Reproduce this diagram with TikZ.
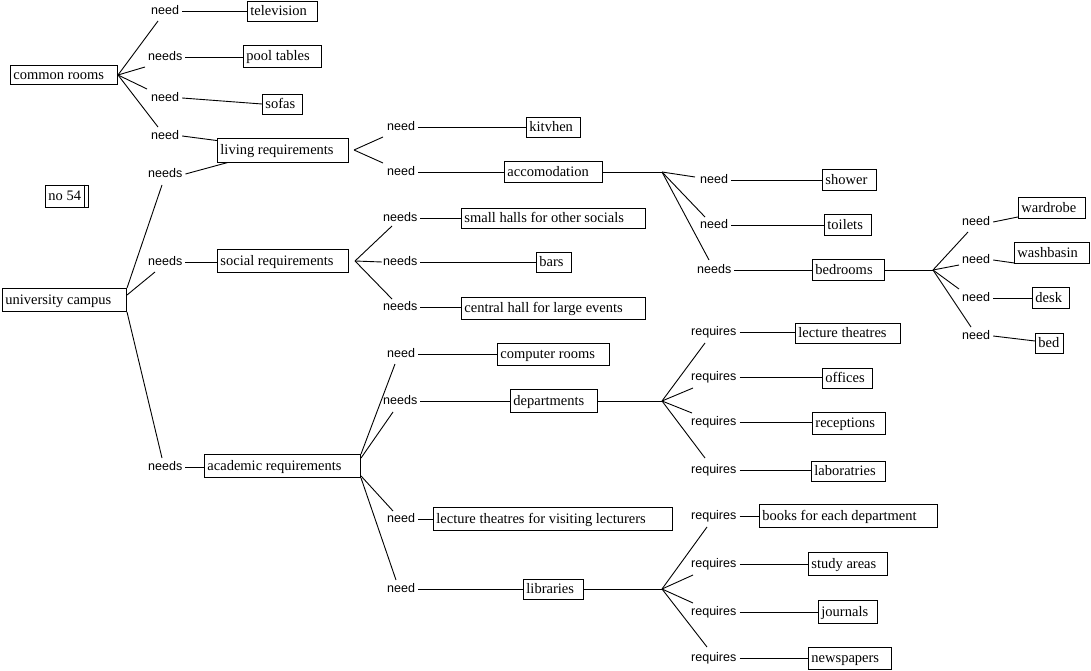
\documentclass[tikz,border=0pt]{standalone}
\usepackage{fontspec}
\setmainfont{Liberation Serif}
\newfontfamily\lblfnt{Liberation Sans}
\newcommand\mybox[6]{\node[box, minimum height=#5pt] (#1) at (#2,#4) {\makebox[\dimexpr #3pt-#2pt-6.9pt\relax][l]{#6}};}
\newcommand\mylbl[4]{\node[lbl] (#1) at (#2-3,#3) {#4};}
\begin{document}
\begin{tikzpicture}[x=1pt,y=-1pt,
  box/.style={draw, line width=0.9pt, anchor=west, inner xsep=3pt, inner ysep=0pt,
    text height=12pt, text depth=3pt, font=\fontsize{14.5}{16}\selectfont},
  lbl/.style={anchor=west, inner xsep=3pt, inner ysep=0pt, text height=9.5pt, text depth=2.5pt,
    font=\lblfnt\fontsize{12.5}{14}\selectfont},
  con/.style={line width=0.9pt}]
\useasboundingbox (0,0) rectangle (1091,671);
% boxes
\mybox{cr}{10}{118}{75}{19}{common rooms}
\mybox{tv}{247}{318}{11}{20}{television}
\mybox{pool}{243}{322}{56}{22}{pool tables}
\mybox{sofa}{262}{303}{104}{20}{sofas}
\mybox{liv}{217}{349}{150}{24}{living requirements}
\mybox{no54}{45}{89}{196}{22}{no 54}
\mybox{uc}{2}{127}{300}{23}{university campus}
\mybox{soc}{217}{349}{261}{23}{social requirements}
\mybox{kit}{526}{581}{127}{20}{kitvhen}
\mybox{acc}{504}{603}{172}{21}{accomodation}
\mybox{small}{461}{646}{218}{20}{small halls for other socials}
\mybox{bars}{536}{572}{262}{20}{bars}
\mybox{central}{461}{646}{308}{22}{central hall for large events}
\mybox{shower}{822}{877}{180}{21}{shower}
\mybox{toil}{824}{872}{225}{21}{toilets}
\mybox{bedr}{812}{885}{270}{21}{bedrooms}
\mybox{ward}{1018}{1086}{208}{21}{wardrobe}
\mybox{wash}{1014}{1090}{253}{21}{washbasin}
\mybox{desk}{1032}{1070}{298}{21}{desk}
\mybox{bedd}{1035}{1064}{343}{20}{bed}
\mybox{lt}{795}{901}{333}{20}{lecture theatres}
\mybox{off}{822}{873}{378}{20}{offices}
\mybox{rec}{812}{886}{423}{22}{receptions}
\mybox{lab}{811}{886}{471}{20}{laboratries}
\mybox{comp}{497}{610}{354}{22}{computer rooms}
\mybox{dept}{510}{598}{401}{23}{departments}
\mybox{acad}{204}{361}{466}{23}{academic requirements}
\mybox{ltv}{433}{673}{519}{23}{lecture theatres for visiting lecturers}
\mybox{lib}{523}{584}{589}{20}{libraries}
\mybox{books}{759}{938}{516}{23}{books for each department}
\mybox{study}{808}{888}{564}{23}{study areas}
\mybox{journ}{818}{878}{612}{23}{journals}
\mybox{news}{808}{892}{658}{22}{newspapers}
\draw[con] ([shift={(-5,0)}]no54.north east) -- ([shift={(-5,0)}]no54.south east);
% labels
\mylbl{ltv1}{151}{11}{need}
\mylbl{lpool}{148}{57}{needs}
\mylbl{lsofa}{151}{98}{need}
\mylbl{lliv}{151}{136}{need}
\mylbl{luliv}{148}{174}{needs}
\mylbl{lsoc}{148}{262}{needs}
\mylbl{lacad}{148}{467}{needs}
\mylbl{lkit}{387}{127}{need}
\mylbl{lacc}{387}{172}{need}
\mylbl{lsmall}{383}{218}{needs}
\mylbl{lbars}{383}{262}{needs}
\mylbl{lcentral}{383}{307}{needs}
\mylbl{lshower}{700}{180}{need}
\mylbl{ltoil}{700}{225}{need}
\mylbl{lbedr}{697}{270}{needs}
\mylbl{lward}{962}{222}{need}
\mylbl{lwash}{962}{260}{need}
\mylbl{ldesk}{962}{298}{need}
\mylbl{lbedd}{962}{336}{need}
\mylbl{lcomp}{387}{354}{need}
\mylbl{ldept}{383}{401}{needs}
\mylbl{lltv}{387}{519}{need}
\mylbl{llib}{387}{589}{need}
\mylbl{llt}{691}{332}{requires}
\mylbl{loff}{691}{377}{requires}
\mylbl{lrec}{691}{422}{requires}
\mylbl{llab}{691}{470}{requires}
\mylbl{lbooks}{691}{516}{requires}
\mylbl{lstudy}{691}{564}{requires}
\mylbl{ljourn}{691}{612}{requires}
\mylbl{lnews}{691}{658}{requires}
% junction coordinates
\coordinate (livc) at ([xshift=5pt]liv.east);
\coordinate (socc) at ([xshift=6pt]soc.east);
\coordinate (accc) at (662,172);
\coordinate (bedc) at (933,270);
\coordinate (depc) at (662,401);
\coordinate (libc) at (662,589);
% common rooms
\draw[con] (cr.east) -- ([shift={(10,10)}]ltv1.west);
\draw[con] (cr.east) -- ([shift={(0,10)}]lpool.west);
\draw[con] (cr.east) -- ([shift={(-1,-9)}]lsofa.west);
\draw[con] (cr.east) -- ([shift={(10,-9)}]lliv.west);
\draw[con] (ltv1.east) -- (ltv1.east -| tv.west);
\draw[con] (lpool.east) -- (lpool.east -| pool.west);
\draw[con] (lsofa.east) -- (sofa.west);
\draw[con] (lliv.east) -- ([shift={(0,3)}]liv.north west);
% university campus
\draw[con] (uc.north east) -- ([shift={(17,11)}]luliv.west);
\draw[con] ([shift={(0,-5)}]uc.east) -- ([shift={(10,10)}]lsoc.west);
\draw[con] (uc.south east) -- ([shift={(17,-9)}]lacad.west);
\draw[con] (luliv.east) -- ([shift={(11,0)}]liv.south west);
\draw[con] (lsoc.east) -- (lsoc.east -| soc.west);
\draw[con] (lacad.east) -- (lacad.east -| acad.west);
% living requirements
\draw[con] (livc) -- ([shift={(-1,10)}]lkit.west);
\draw[con] (livc) -- ([shift={(-1,-9)}]lacc.west);
\draw[con] (lkit.east) -- (lkit.east -| kit.west);
\draw[con] (lacc.east) -- (lacc.east -| acc.west);
% social requirements
\draw[con] (socc) -- ([shift={(12,8)}]lsmall.west);
\draw[con] (socc) -- ([shift={(2,0)}]lbars.west);
\draw[con] (socc) -- ([shift={(12,-8)}]lcentral.west);
\draw[con] (lsmall.east) -- (lsmall.east -| small.west);
\draw[con] (lbars.east) -- (lbars.east -| bars.west);
\draw[con] (lcentral.east) -- (lcentral.east -| central.west);
% accomodation
\draw[con] (acc.east) -- (accc);
\draw[con] (accc) -- ([shift={(-2,-3)}]lshower.west);
\draw[con] (accc) -- ([shift={(8,-8)}]ltoil.west);
\draw[con] (accc) -- ([shift={(15,-10)}]lbedr.west);
\draw[con] (lshower.east) -- (lshower.east -| shower.west);
\draw[con] (ltoil.east) -- (ltoil.east -| toil.west);
\draw[con] (lbedr.east) -- (lbedr.east -| bedr.west);
% bedrooms
\draw[con] (bedr.east) -- (bedc);
\draw[con] (bedc) -- ([shift={(9,10)}]lward.west);
\draw[con] (bedc) -- ([shift={(0,5)}]lwash.west);
\draw[con] (bedc) -- ([shift={(0,-9)}]ldesk.west);
\draw[con] (bedc) -- ([shift={(12,-9)}]lbedd.west);
\draw[con] (lward.east) -- ([shift={(0,-2)}]ward.south west);
\draw[con] (lwash.east) -- ([shift={(0,-1)}]wash.south west);
\draw[con] (ldesk.east) -- (ldesk.east -| desk.west);
\draw[con] (lbedd.east) -- ([shift={(0,-2)}]bedd.west);
% academic requirements
\draw[con] (acad.north east) -- ([shift={(11,10)}]lcomp.west);
\draw[con] ([shift={(0,4)}]acad.north east) -- ([shift={(13,11)}]ldept.west);
\draw[con] ([shift={(0,-2)}]acad.south east) -- ([shift={(9,-8)}]lltv.west);
\draw[con] (acad.south east) -- ([shift={(12,-9)}]llib.west);
\draw[con] (lcomp.east) -- (lcomp.east -| comp.west);
\draw[con] (ldept.east) -- (ldept.east -| dept.west);
\draw[con] (lltv.east) -- (lltv.east -| ltv.west);
\draw[con] (llib.east) -- (llib.east -| lib.west);
% departments
\draw[con] (dept.east) -- (depc);
\draw[con] (depc) -- ([shift={(17,11)}]llt.west);
\draw[con] (depc) -- ([shift={(5,11)}]loff.west);
\draw[con] (depc) -- ([shift={(4,-9)}]lrec.west);
\draw[con] (depc) -- ([shift={(17,-12)}]llab.west);
\draw[con] (llt.east) -- (llt.east -| lt.west);
\draw[con] (loff.east) -- (loff.east -| off.west);
\draw[con] (lrec.east) -- (lrec.east -| rec.west);
\draw[con] (llab.east) -- (llab.east -| lab.west);
% libraries
\draw[con] (lib.east) -- (libc);
\draw[con] (libc) -- ([shift={(19,11)}]lbooks.west);
\draw[con] (libc) -- ([shift={(5,11)}]lstudy.west);
\draw[con] (libc) -- ([shift={(5,-9)}]ljourn.west);
\draw[con] (libc) -- ([shift={(19,-11)}]lnews.west);
\draw[con] (lbooks.east) -- (lbooks.east -| books.west);
\draw[con] (lstudy.east) -- (lstudy.east -| study.west);
\draw[con] (ljourn.east) -- (ljourn.east -| journ.west);
\draw[con] (lnews.east) -- (lnews.east -| news.west);
\end{tikzpicture}
\end{document}
